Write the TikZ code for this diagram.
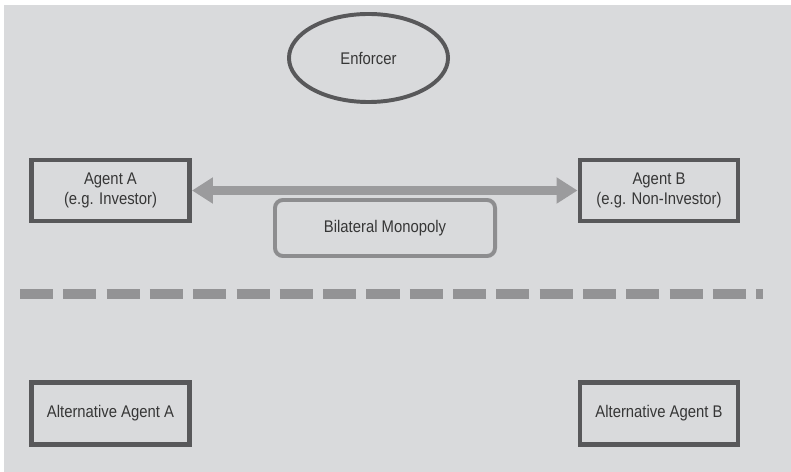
\documentclass[tikz,border=0pt]{standalone}
\usepackage{fontspec}
\setmainfont{Liberation Sans}[FakeStretch=0.88]
\usetikzlibrary{arrows.meta,shapes.geometric}
\definecolor{panelgray}{HTML}{D9DADC}
\definecolor{boxgray}{HTML}{58585A}
\definecolor{arrowgray}{HTML}{9B9B9D}
\definecolor{monogray}{HTML}{8D8D8F}
\definecolor{dashgray}{HTML}{939395}
\definecolor{textgray}{HTML}{363636}
\begin{document}
\begin{tikzpicture}[x=0.025cm, y=-0.025cm,
	agent/.style={draw=boxgray, line width=3.5pt, minimum width=3.95cm, minimum height=1.525cm, inner sep=0pt, align=center, text=textgray, font=\fontsize{12}{14}\selectfont},
	altagent/.style={agent, minimum height=1.55cm},
	monopoly/.style={draw=monogray, line width=2.8pt, rounded corners=0.2cm, minimum width=5.5cm, minimum height=1.4cm, inner sep=0pt, text=textgray, font=\fontsize{12}{14}\selectfont},
	enforcer/.style={ellipse, draw=boxgray, line width=2.8pt, minimum width=3.975cm, minimum height=2.2cm, inner sep=0pt, text=textgray, font=\fontsize{12}{14}\selectfont},
	link/.style={draw=arrowgray, line width=5.7pt, {Triangle[length=0.525cm, width=0.625cm]}-{Triangle[length=0.525cm, width=0.625cm]}},
	divider/.style={draw=dashgray, line width=7.1pt, dash pattern=on 0.825cm off 0.2575cm}]
	\useasboundingbox (0, 0) rectangle (791, 472);
	\fill[panelgray] (4, 5) rectangle (791, 472);
	\node[enforcer] (enf) at (368.5, 58) {Enforcer};
	\node[agent] (agentA) at (110.5, 190.5) {Agent A\\(e.g. Investor)};
	\node[agent] (agentB) at (659, 190.5) {Agent B\\(e.g. Non-Investor)};
	\node[monopoly] (bilat) at (385, 228) {Bilateral Monopoly};
	\draw[link] (agentA) -- (agentB);
	\coordinate (divL) at (20, 294);
	\coordinate (divR) at (763, 294);
	\draw[divider] (divL) -- (divR);
	\node[altagent] (altA) at (110.5, 413.5) {Alternative Agent A};
	\node[altagent] (altB) at (659, 413.5) {Alternative Agent B};
\end{tikzpicture}
\end{document}
